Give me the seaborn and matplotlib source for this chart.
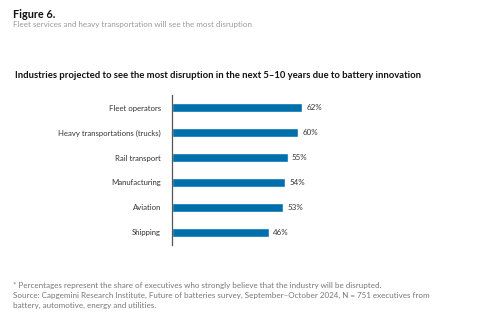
import matplotlib
matplotlib.use("Agg")
import matplotlib.pyplot as plt
import seaborn as sns
import pandas as pd

industries = ["Fleet operators", "Heavy transportations (trucks)", "Rail transport",
              "Manufacturing", "Aviation", "Shipping"]
shares = [62, 60, 55, 54, 53, 46]

df = pd.DataFrame({"industry": industries, "share": shares})

sns.set_style("white")
plt.rcParams["font.family"] = ["Lato", "DejaVu Sans"]

W, H = 480, 322
fig = plt.figure(figsize=(W / 100, H / 100), dpi=100)
ax = fig.add_axes([172 / W, 1 - 245 / H, 210 / W, 150 / H])

blue = "#0070AD"
sns.barplot(data=df, x="share", y="industry", color=blue, width=0.39,
            saturation=1, ax=ax, orient="h")
ax.set_xlim(0, 100)
ax.set_ylim(5.5, -0.5)
ax.set_xlabel("")
ax.set_ylabel("")
ax.set_xticks([])
ax.tick_params(axis="y", length=0, pad=8, labelsize=5.6, labelcolor="#333333")
for s in ["top", "right", "bottom"]:
    ax.spines[s].set_visible(False)
ax.spines["left"].set_color("#555555")
ax.spines["left"].set_linewidth(0.9)

for i, v in enumerate(shares):
    ax.text(v + 2, i, f"{v}%", va="center", ha="left", fontsize=5.8, color="#333333")

fig.text(13 / W, 1 - 14.5 / H, "Figure 6.", fontsize=7.8, fontweight="bold",
         color="#111111", va="center", ha="left")
fig.text(13 / W, 1 - 25 / H, "Fleet services and heavy transportation will see the most disruption",
         fontsize=5.8, color="#9a9a9a", va="center", ha="left")
fig.text(15 / W, 1 - 75 / H,
         "Industries projected to see the most disruption in the next 5\u201310 years due to battery innovation",
         fontsize=6.8, fontweight="bold", color="#111111", va="center", ha="left")

foot = ("* Percentages represent the share of executives who strongly believe that the industry will be disrupted.\n"
        "Source: Capgemini Research Institute, Future of batteries survey, September\u2013October 2024, N = 751 executives from\n"
        "battery, automotive, energy and utilities.")
fig.text(13 / W, 1 - 282 / H, foot, fontsize=5.75, color="#777777", va="top", ha="left",
         linespacing=1.5)

fig.savefig("out.png", dpi=100)
